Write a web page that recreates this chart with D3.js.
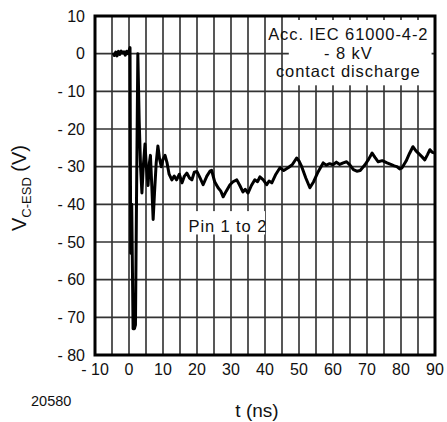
<!DOCTYPE html>
<html>
<head>
<meta charset="utf-8">
<script src="https://cdn.jsdelivr.net/npm/d3@7"></script>
<style>
  html, body { margin: 0; padding: 0; background: #fff; }
  svg text { font-family: "Liberation Sans", Arial, Helvetica, sans-serif; fill: #111; }
</style>
</head>
<body>
<svg id="chart"></svg>
<script>
// ── data ────────────────────────────────────────────────────────────────
const tNs = [
  -4.7, -4.3, -3.9, -3.5, -3.1, -2.7, -2.3, -1.9, -1.5, -1.1, -0.7, -0.3, 0.0, 0.3,
  0.5, 0.8, 1.2, 1.6, 1.9, 2.2, 2.6, 3.0, 3.4, 3.8, 4.2, 4.7, 5.1, 5.6, 6.0, 6.3,
  6.7, 7.1, 7.5, 8.0, 8.5, 9.0, 9.5, 10.0, 10.6, 11.2, 11.8, 12.6, 13.3, 14.0, 14.8,
  15.6, 16.3, 17.0, 17.8, 18.5, 19.2, 20.0, 20.9, 21.8, 22.9, 23.8, 24.3, 25.2, 26.2,
  27.0, 27.7, 28.6, 29.7, 30.6, 31.7, 32.6, 33.5, 34.2, 35.0, 36.0, 37.0, 37.8, 38.5,
  39.5, 40.5, 41.2, 42.0, 43.2, 44.4, 45.5, 46.8, 48.0, 49.3, 50.0, 50.8, 52.0, 53.2,
  54.3, 55.6, 57.1, 58.0, 59.0, 60.0, 61.0, 62.0, 63.0, 64.0, 65.0, 66.0, 67.0, 68.0,
  69.4, 70.5, 71.5, 72.4, 73.3, 74.5, 75.9, 77.0, 78.0, 78.8, 79.6, 80.3, 81.5, 82.5,
  83.5, 84.4, 85.3, 86.2, 87.0, 87.8, 88.5, 89.2, 90.0
];
const vVolts = [
  0.2, -0.5, 0.4, -0.6, 0.6, -0.2, 0.7, 0.2, 0.5, -0.4, 0.6, 0.0, 0.8, 1.6,
  -53, -40, -73, -73, -72, -40, 0, -18, -30, -37, -30, -24, -30, -35, -29, -27,
  -35, -44, -37, -29, -24.5, -28, -30, -28, -27, -29, -32, -33.5, -32.5, -33.5, -32,
  -34.3, -32.5, -31.7, -33, -33.5, -31.5, -31.3, -33, -34.8, -32.5, -31.2, -31.0, -34, -35.6,
  -36.5, -38, -36.5, -34.8, -34, -33.5, -35, -36.7, -36, -37, -35, -33.5, -34, -32.7,
  -33.5, -34.8, -33.8, -34.3, -32, -30.3, -31, -30.3, -29.5, -27.7, -28.5, -30, -33, -35.6,
  -34, -31.4, -29, -29.6, -29.2, -29.5, -28.8, -29.4, -29, -28.7, -29.6, -30.8, -31.2, -31,
  -29.5, -28, -26.4, -27.6, -28.7, -28.4, -29, -29.4, -29.8, -30, -30.6, -30.3, -28.5, -26.5,
  -24.7, -25.8, -26.6, -27.4, -28.2, -26.8, -25.5, -26.2, -26.4
];
const xTicks = [-10, 0, 10, 20, 30, 40, 50, 60, 70, 80, 90];
const yTicks = [10, 0, -10, -20, -30, -40, -50, -60, -70, -80];
const legendLines = ["Acc. IEC 61000-4-2", "- 8 kV", "contact discharge"];
const traceLabel = "Pin 1 to 2";
const figureNo = "20580";

// ── geometry ────────────────────────────────────────────────────────────
const W = 447, H = 422;
const margin = { top: 16, left: 95 };
const innerW = 340, innerH = 339;

const svg = d3.select("#chart").attr("width", W).attr("height", H);
const g = svg.append("g").attr("transform", `translate(${margin.left},${margin.top})`);

const x = d3.scaleLinear().domain([-10, 90]).range([0, innerW]);
const y = d3.scaleLinear().domain([10, -80]).range([0, innerH]);

const fmt = v => v < 0 ? "- " + Math.abs(v) : String(v);

// ── grid ────────────────────────────────────────────────────────────────
g.selectAll(".vgrid")
  .data(d3.range(-5, 90, 5))
  .enter().append("line")
  .attr("x1", d => x(d)).attr("x2", d => x(d))
  .attr("y1", 0).attr("y2", innerH)
  .attr("stroke", "#111").attr("stroke-width", 1.4);

g.selectAll(".hgrid")
  .data(yTicks.slice(1, -1))
  .enter().append("line")
  .attr("x1", 0).attr("x2", innerW)
  .attr("y1", d => y(d)).attr("y2", d => y(d))
  .attr("stroke", "#333").attr("stroke-width", 1.6);

// ── trace ───────────────────────────────────────────────────────────────
const pts = tNs.map((t, i) => [t, vVolts[i]]);
const line = d3.line().x(d => x(d[0])).y(d => y(d[1]));
g.append("path")
  .attr("d", line(pts))
  .attr("fill", "none")
  .attr("stroke", "#000")
  .attr("stroke-width", 3)
  .attr("stroke-linejoin", "round");

// ── legend box (white, covers grid) ─────────────────────────────────────
g.append("rect")
  .attr("x", x(47)).attr("y", 4)
  .attr("width", x(89) - x(47)).attr("height", y(-8.4) - 4)
  .attr("fill", "#fff");

g.selectAll(".legend")
  .data(legendLines)
  .enter().append("text")
  .attr("x", x(64.5))
  .attr("y", (d, i) => 24 + i * 18.5)
  .attr("text-anchor", "middle")
  .style("font-size", "16.5px")
  .style("letter-spacing", "0.9px")
  .text(d => d);

// trace label
g.append("rect")
  .attr("x", x(16.5)).attr("y", y(-41.8))
  .attr("width", x(40) - x(16.5)).attr("height", y(-48) - y(-41.8))
  .attr("fill", "#fff");
g.append("text")
  .attr("x", x(17.5)).attr("y", y(-47.3))
  .style("font-size", "16.5px")
  .style("letter-spacing", "0.9px")
  .text(traceLabel);

// ── frame ───────────────────────────────────────────────────────────────
g.append("rect")
  .attr("x", 0).attr("y", 0)
  .attr("width", innerW).attr("height", innerH)
  .attr("fill", "none")
  .attr("stroke", "#000").attr("stroke-width", 3);

// ── tick labels ─────────────────────────────────────────────────────────
g.selectAll(".ylab")
  .data(yTicks)
  .enter().append("text")
  .attr("x", -10)
  .attr("y", d => y(d))
  .attr("dy", "0.36em")
  .attr("text-anchor", "end")
  .style("font-size", "16px")
  .text(fmt);

g.selectAll(".xlab")
  .data(xTicks)
  .enter().append("text")
  .attr("x", d => x(d))
  .attr("y", innerH + 20)
  .attr("text-anchor", "middle")
  .style("font-size", "16px")
  .text(fmt);

// ── axis titles ─────────────────────────────────────────────────────────
svg.append("text")
  .attr("x", 257).attr("y", 417)
  .attr("text-anchor", "middle")
  .style("font-size", "19px")
  .text("t (ns)");

const yt = svg.append("text")
  .attr("transform", "translate(26,188) rotate(-90)")
  .attr("text-anchor", "middle")
  .style("font-size", "20px");
yt.append("tspan").text("V");
yt.append("tspan").attr("dy", 5).style("font-size", "13px").text("C-ESD");
yt.append("tspan").attr("dy", -5).text(" (V)");

svg.append("text")
  .attr("x", 31).attr("y", 406)
  .style("font-size", "14.5px")
  .text(figureNo);
</script>
</body>
</html>
